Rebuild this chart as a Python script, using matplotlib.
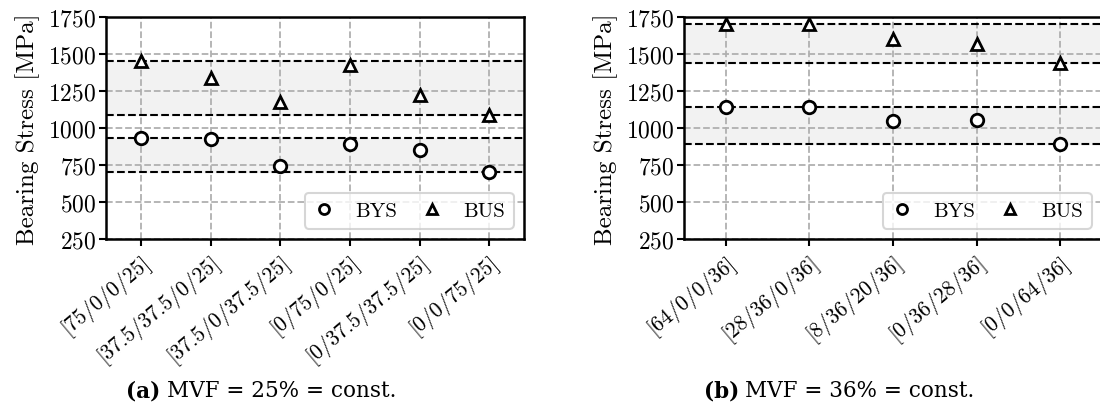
import numpy as np
import matplotlib
matplotlib.use('Agg')
import matplotlib.pyplot as plt

plt.rcParams['font.family'] = 'serif'
plt.rcParams['font.serif'] = ['cmr10']
plt.rcParams['mathtext.fontset'] = 'cm'
plt.rcParams['axes.formatter.use_mathtext'] = True

# data
labels_a = ['[75/0/0/25]', '[37.5/37.5/0/25]', '[37.5/0/37.5/25]',
            '[0/75/0/25]', '[0/37.5/37.5/25]', '[0/0/75/25]']
bys_a = [929, 925, 741, 890, 850, 705]
bus_a = [1455, 1340, 1173, 1422, 1225, 1087]

labels_b = ['[64/0/0/36]', '[28/36/0/36]', '[8/36/20/36]',
            '[0/36/28/36]', '[0/0/64/36]']
bys_b = [1143, 1144, 1045, 1052, 889]
bus_b = [1700, 1700, 1598, 1570, 1440]

yticks = [250, 500, 750, 1000, 1250, 1500, 1750]


def panel(ax, labels, bys, bus):
    x = np.arange(len(labels))
    for vals in (bys, bus):
        ax.axhspan(min(vals), max(vals), color='#f2f2f2', zorder=0)
        ax.axhline(min(vals), color='black', ls='--', lw=1.5, zorder=2)
        ax.axhline(max(vals), color='black', ls='--', lw=1.5, zorder=2)
    ax.plot(x, bys, 'o', ms=9, mfc='white', mec='black', mew=2, label='BYS', zorder=3)
    ax.plot(x, bus, '^', ms=9, mfc='white', mec='black', mew=2, label='BUS', zorder=3)
    ax.set_xlim(-0.5, len(labels) - 0.5)
    ax.set_ylim(250, 1750)
    ax.set_yticks(yticks)
    ax.set_xticks(x)
    ax.set_xticklabels(labels, rotation=40, ha='right', rotation_mode='anchor', fontsize=15.5)
    ax.tick_params(axis='y', labelsize=17, width=1.5, length=5, pad=2)
    ax.tick_params(axis='x', width=1.5, length=5)
    ax.grid(True, color='#b0b0b0', ls='--', lw=1.3, zorder=1)
    ax.set_axisbelow(True)
    for s in ax.spines.values():
        s.set_linewidth(1.8)
    ax.set_ylabel('Bearing Stress [MPa]', fontsize=18, labelpad=6)
    leg = ax.legend(loc='lower right', ncol=2, fontsize=15, framealpha=0.8,
                    edgecolor='#cccccc', handlelength=1.0, handletextpad=1.0,
                    columnspacing=1.2, borderaxespad=0.5, markerscale=0.8)
    leg.get_frame().set_linewidth(1.5)


fig = plt.figure(figsize=(11, 4.06), dpi=100)
ax1 = fig.add_axes([0.0964, 0.409, 0.38, 0.547])
ax2 = fig.add_axes([0.6218, 0.409, 0.38, 0.547])
panel(ax1, labels_a, bys_a, bus_a)
panel(ax2, labels_b, bys_b, bus_b)

cap = ['DejaVu Serif']
fig.text(0.115, 0.022, '(a)', fontsize=15.5, fontweight='bold', family=cap, va='baseline')
fig.text(0.152, 0.022, 'MVF = 25% = const.', fontsize=15.5, family=cap, va='baseline')
fig.text(0.640, 0.022, '(b)', fontsize=15.5, fontweight='bold', family=cap, va='baseline')
fig.text(0.677, 0.022, 'MVF = 36% = const.', fontsize=15.5, family=cap, va='baseline')

fig.savefig('out.png', dpi=100)
